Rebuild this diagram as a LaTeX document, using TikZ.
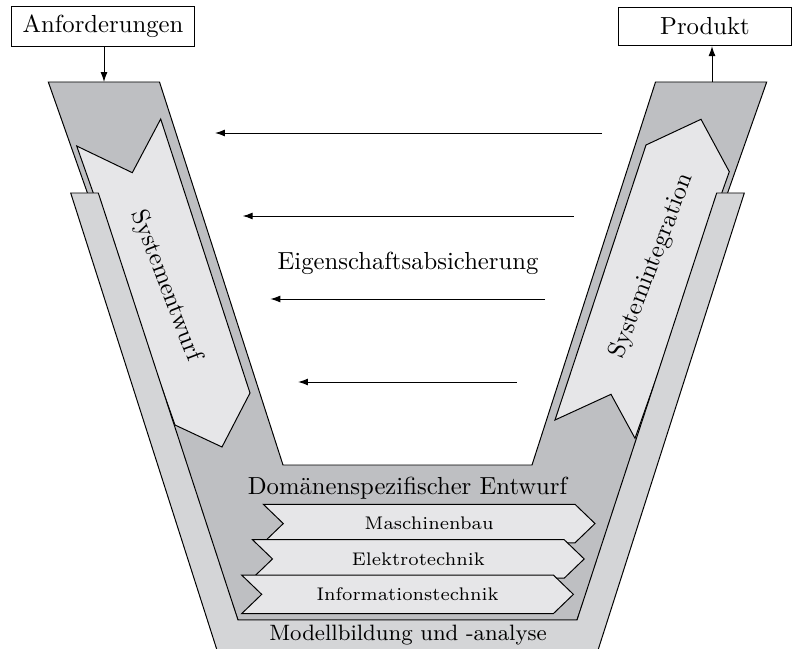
\documentclass[tikz,border=0pt]{standalone}
\usetikzlibrary{arrows.meta}

\definecolor{domaingray}{RGB}{190,191,194}
\definecolor{modelgray}{RGB}{212,213,215}
\definecolor{phasegray}{RGB}{230,230,232}

\begin{document}
\begin{tikzpicture}[x=0.405pt,y=-0.405pt,>={Latex[length=4pt,width=2.8pt]},
    phase/.style={draw,fill=white,minimum height=15.5pt,inner xsep=4.7pt},
    area/.style={draw,line join=miter},
    domainlabel/.style={font=\fontsize{7.4}{8.8}\selectfont}]
    \useasboundingbox (0,0) rectangle (792,649);
    \clip (0,0) rectangle (792,649);

    % V
    \draw[area,fill=domaingray] (48.3,82) -- (159.5,82) -- (283,465) -- (532,465)
        -- (655.5,82) -- (766.7,82) -- (577,620) -- (238,620) -- cycle;
    \draw[area,fill=phasegray] (76.7,146) -- (132.3,172.7) -- (160.7,119)
        -- (250,393) -- (222,447) -- (175,425) -- cycle;
    \draw[area,fill=phasegray] (555,420) -- (611,394.3) -- (635,438.3)
        -- (729.3,171.7) -- (701,119.3) -- (646,145) -- cycle;
    \draw[area,fill=modelgray] (70.7,193) -- (98.3,193) -- (238,620) -- (577,620)
        -- (716.7,193) -- (744.3,193) -- (594.2,662) -- (220.8,662) -- cycle;

    \node[rotate=-69] (entwurf) at (166,286) {Systementwurf};
    \node[rotate=69] (integration) at (652,266) {Systemintegration};
    \node (eigenschaft) at (408,263) {Eigenschaftsabsicherung};
    \node (domaene) at (407.5,488) {Domänenspezifischer Entwurf};
    \node[font=\small] (modell) at (408,635.5) {Modellbildung und -analyse};

    % Domaenen
    \foreach \name [count=\i from 0] in {Maschinenbau,Elektrotechnik,Informationstechnik} {
        \pgfmathsetmacro{\xa}{263.3-10.8*\i}
        \pgfmathsetmacro{\ya}{504.3+35.4*\i}
        \draw[area,fill=phasegray] (\xa,\ya) -- ++(311.7,0) -- ++(20,19.25) -- ++(-20,19.25)
            -- ++(-311.7,0) -- ++(20,-19.25) -- cycle;
        \node[domainlabel] (\name) at (\xa+165.85,\ya+19.25) {\name};
    }

    % Eigenschaftsabsicherung
    \foreach \k in {0,...,3} {
        \coordinate (from\k) at (602-28.4*\k,133+83*\k);
        \coordinate (to\k) at (215+27.7*\k,133+83*\k);
        \draw[->] (from\k) -- (to\k);
    }

    \node[phase] (anforderungen) at (103,26.5) {Anforderungen};
    \node[phase,minimum width=69.7pt] (produkt) at (705,26.5) {Produkt};
    \coordinate (vleft) at (104,82);
    \coordinate (vright) at (712,82);
    \draw[->] (anforderungen.south -| vleft) -- (vleft);
    \draw[->] (vright) -- (produkt.south -| vright);
\end{tikzpicture}
\end{document}
